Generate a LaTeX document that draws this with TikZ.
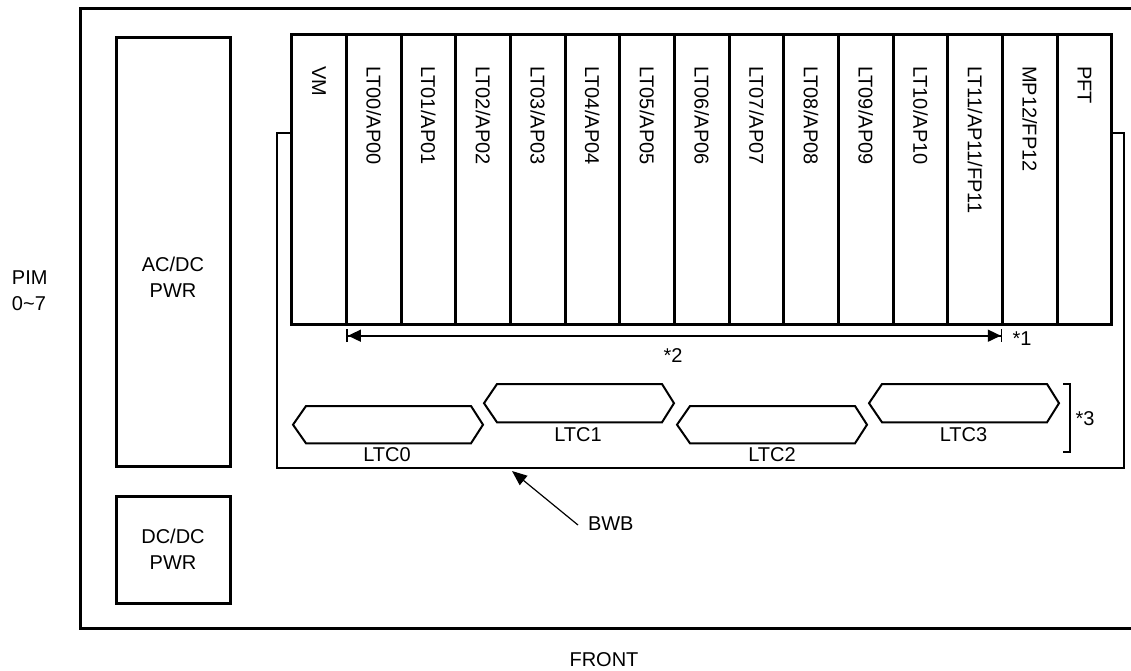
\documentclass[tikz,border=0pt]{standalone}
\usepackage{fontspec}
\setmainfont{Liberation Sans}
\usetikzlibrary{arrows.meta}
\begin{document}
\begin{tikzpicture}[x=1pt,y=-1pt,
  every node/.style={font=\fontsize{20}{26}\selectfont, inner sep=0pt, outer sep=0pt},
  pwrbox/.style={draw, rectangle, line width=3pt, minimum width=114pt},
  slotbox/.style={draw, rectangle, line width=3pt, minimum width=54.67pt, minimum height=290.5pt},
  slotlabel/.style={rotate=-90, anchor=west},
  hexline/.style={draw, line width=2pt, line join=miter},
  bwbline/.style={draw, line width=2pt},
  dimarrow/.style={line width=1.6pt, {Bar[width=13pt]Triangle[length=13pt,width=12pt]}-{Triangle[length=13pt,width=12pt]Bar[width=13pt]}},
  ptr/.style={line width=1.2pt, -{Triangle[length=15pt,width=12pt]}}
]
\useasboundingbox (0,0) rectangle (1131,670);

% outer frame (open on the right)
\draw[line width=3pt] (1131,8.5) -- (80,8.5) -- (80,628) -- (1131,628);

% power supplies
\node[pwrbox, minimum height=429pt] (acdc) at (173,251.5) {};
\node[align=center] (acdct) at (173,277) {AC/DC\\PWR};
\node[pwrbox, minimum height=107pt] (dcdc) at (173,549.5) {};
\node[align=center] (dcdct) at (dcdc.center) {DC/DC\\PWR};

% PIM label
\node[anchor=west, align=left] (pim) at (12,290.5) {PIM\\0\textasciitilde7};

% slots
\foreach \lab [count=\i from 0] in {VM,LT00/AP00,LT01/AP01,LT02/AP02,LT03/AP03,LT04/AP04,LT05/AP05,LT06/AP06,LT07/AP07,LT08/AP08,LT09/AP09,LT10/AP10,LT11/AP11/FP11,MP12/FP12,PFT}{
  \pgfmathsetmacro{\cx}{291.7+54.67*(\i+0.5)}
  \node[slotbox] (s\i) at (\cx,179.25) {};
  \node[slotlabel] (t\i) at ([yshift=-32pt]s\i.north) {\lab};
}

% backwiring board outline
\draw[bwbline] (s0.west |- 0,133) -- (277,133) -- (277,468) -- (1124,468) -- (1124,133) -- (s14.east |- 0,133);

% dimension arrow *2
\coordinate (d1) at ([yshift=-11.2pt]s1.south west);
\coordinate (d2) at ([yshift=-11.2pt]s13.south west);
\draw[dimarrow] (d1) -- (d2);
\node (n1) at (1022,339) {*1};
\node (n2) at (673,356) {*2};

% LTC connectors
\draw[hexline] (293,424.7) -- (306,406) -- (471,406) -- (483,424.7) -- (471,443.3) -- (306,443.3) -- cycle;
\draw[hexline] (484,403.2) -- (497,384) -- (662,384) -- (674,403.2) -- (662,422.3) -- (497,422.3) -- cycle;
\draw[hexline] (677,424.7) -- (690,406) -- (855,406) -- (867,424.7) -- (855,443.3) -- (690,443.3) -- cycle;
\draw[hexline] (869,403.2) -- (882,384) -- (1047,384) -- (1059,403.2) -- (1047,422.3) -- (882,422.3) -- cycle;
\node (l0) at (387,455) {LTC0};
\node (l1) at (578,434.5) {LTC1};
\node (l2) at (772,455) {LTC2};
\node (l3) at (963.5,434.5) {LTC3};

% bracket *3
\draw[bwbline] (1063,384) -- (1070,384) -- (1070,452) -- (1063,452);
\node (n3) at (1085,419) {*3};

% BWB pointer
\node[anchor=west] (bwb) at (588,524) {BWB};
\coordinate (bwbtip) at (512,471);
\draw[ptr] ([xshift=-10pt,yshift=-1pt]bwb.west) -- (bwbtip);

% FRONT
\node (front) at (604,660) {FRONT};
\end{tikzpicture}
\end{document}
